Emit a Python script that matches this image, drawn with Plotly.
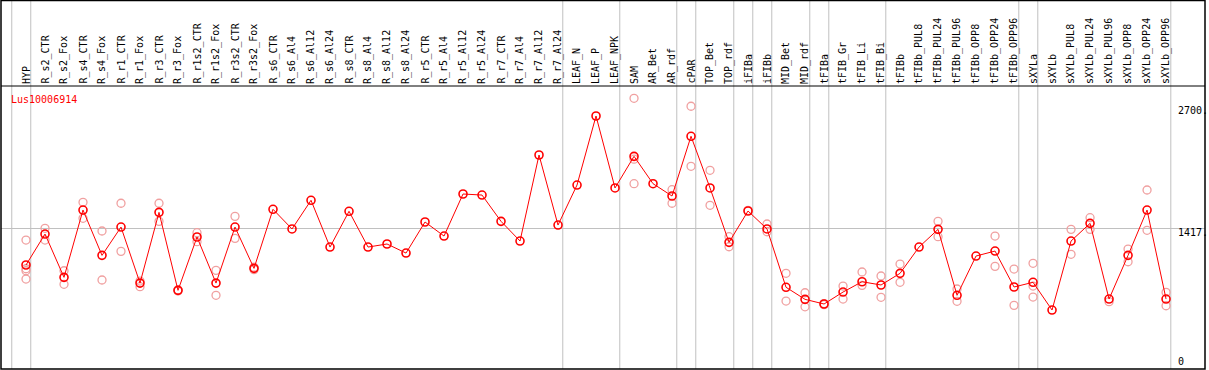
import plotly.graph_objects as go

categories = ["HYP", "R_s2_CTR", "R_s2_Fox", "R_s4_CTR", "R_s4_Fox", "R_r1_CTR", "R_r1_Fox",
              "R_r3_CTR", "R_r3_Fox", "R_r1s2_CTR", "R_r1s2_Fox", "R_r3s2_CTR", "R_r3s2_Fox",
              "R_s6_CTR", "R_s6_Al4", "R_s6_Al12", "R_s6_Al24", "R_s8_CTR", "R_s8_Al4",
              "R_s8_Al12", "R_s8_Al24", "R_r5_CTR", "R_r5_Al4", "R_r5_Al12", "R_r5_Al24",
              "R_r7_CTR", "R_r7_Al4", "R_r7_Al12", "R_r7_Al24", "LEAF_N", "LEAF_P", "LEAF_NPK",
              "SAM", "AR_Bet", "AR_rdf", "cPAR", "TOP_Bet", "TOP_rdf", "iFIBa", "iFIBb",
              "MID_Bet", "MID_rdf", "tFIBa", "tFIB_Gr", "tFIB_Li", "tFIB_Bi", "tFIBb",
              "tFIBb_PUL8", "tFIBb_PUL24", "tFIBb_PUL96", "tFIBb_OPP8", "tFIBb_OPP24",
              "tFIBb_OPP96", "sXYLa", "sXYLb", "sXYLb_PUL8", "sXYLb_PUL24", "sXYLb_PUL96",
              "sXYLb_OPP8", "sXYLb_OPP24", "sXYLb_OPP96"]

main_values = [1033, 1357, 904, 1608, 1134, 1430, 844, 1584, 768, 1326, 844, 1430, 998,
               1616, 1410, 1710, 1221, 1595, 1221, 1253, 1158, 1483, 1336, 1776, 1765,
               1490, 1284, 2184, 1451, 1870, 2592, 1839, 2170, 1884, 1755, 2380, 1839,
               1270, 1598, 1410, 800, 674, 625, 750, 858, 824, 946, 1221, 1406, 716,
               1127, 1179, 803, 852, 562, 1284, 1469, 677, 1134, 1608, 677]

replicates = [
    [1294, 994, 973, 886], [1417, 1294], [973, 831], [1689, 1522], [1389, 876],
    [1679, 1176], [865, 806], [1679, 1490], [775, 762], [1371, 1277], [977, 716],
    [1542, 1312], [985, 1010],
    [], [], [], [], [], [], [], [], [], [], [], [], [], [], [], [], [], [], [],
    [2777, 2140, 1884], [], [1821, 1679], [2694, 2066], [2024, 1658], [1329, 1224],
    [1605], [1462, 1381], [946, 656], [743, 596], [630, 618], [813, 677], [960, 820],
    [918, 695], [1043, 852], [], [1490, 1329], [782, 653], [], [1336, 1019],
    [991, 611], [1051, 813, 698], [], [1406, 1145], [1528, 1406], [649],
    [1200, 1067], [1818, 1396], [747, 607],
]

scale_labels = ["2700.", "1417.", "0"]
scale_values = [2700, 1417, 0]
gene_name = "Lus10006914"
# index of last category in each group (vertical separators drawn after these)
group_ends = [-1, 0, 28, 31, 34, 35, 37, 38, 39, 41, 42, 45, 52, 53, 60]

W, H = 1209, 370
PL, PR, PT, PB = 1, 1205, 0, 369


def xp(px):
    return (px - PL) / (PR - PL)


def yp(py):
    return (PB - py) / (PB - PT)


x_idx = list(range(len(categories)))
rep_x, rep_y = [], []
for i, reps in enumerate(replicates):
    for v in reps:
        rep_x.append(i)
        rep_y.append(v)

mono = "DejaVu Sans Mono"
fig = go.Figure()
fig.add_trace(go.Scatter(
    x=rep_x, y=rep_y, mode="markers",
    marker=dict(symbol="circle-open", size=8, color="#f0a0a0", line=dict(width=1.3)),
    hoverinfo="skip", showlegend=False))
fig.add_trace(go.Scatter(
    x=x_idx, y=main_values, mode="lines+markers",
    line=dict(color="#ff0000", width=1),
    marker=dict(symbol="circle-open", size=8, color="#ff0000", line=dict(width=1.6)),
    text=categories, showlegend=False))

dom_top = yp(86)
shapes = []
for g in group_ends:
    shapes.append(dict(type="line", xref="x", yref="paper", x0=g + 0.25, x1=g + 0.25,
                       y0=0, y1=1, line=dict(color="#c0c0c0", width=1), layer="below"))
shapes.append(dict(type="rect", xref="paper", yref="paper", x0=0, x1=1, y0=0, y1=yp(0.5),
                   line=dict(color="black", width=1.5)))
shapes.append(dict(type="line", xref="paper", yref="paper", x0=0, x1=1, y0=dom_top, y1=dom_top,
                   line=dict(color="black", width=1)))

annotations = []
for i, c in enumerate(categories):
    annotations.append(dict(x=i, y=dom_top, xref="x", yref="paper", text=c, textangle=-90,
                            showarrow=False, xanchor="center", yanchor="bottom", yshift=0,
                            font=dict(family=mono, size=10, color="black")))
annotations.append(dict(x=xp(9), y=yp(92), xref="paper", yref="paper", text=gene_name,
                        showarrow=False, xanchor="left", yanchor="top",
                        font=dict(family=mono, size=10, color="#ff0000")))
for lab, v in zip(scale_labels, scale_values):
    annotations.append(dict(x=xp(1176), y=v, xref="paper", yref="y", text=lab,
                            showarrow=False, xanchor="left",
                            yanchor="top" if v > 0 else "middle",
                            yshift=3 if v > 0 else 2,
                            font=dict(family=mono, size=10, color="black")))

fig.update_layout(
    width=W, height=H,
    margin=dict(l=PL, r=W - PR, t=PT, b=H - PB, pad=0),
    paper_bgcolor="white", plot_bgcolor="white",
    xaxis=dict(range=[-1.316, 62.05], showgrid=False, zeroline=False, showticklabels=False,
               ticks="", fixedrange=True),
    yaxis=dict(range=[-55, 2906], domain=[0, dom_top], tickvals=[1417], showgrid=True,
               gridcolor="#c0c0c0", gridwidth=1, zeroline=False, showticklabels=False,
               ticks="", fixedrange=True),
    shapes=shapes, annotations=annotations,
)
fig.write_html("out.html", config={"displayModeBar": False},
               post_script="document.body.style.margin='0';document.body.style.overflow='hidden';")
